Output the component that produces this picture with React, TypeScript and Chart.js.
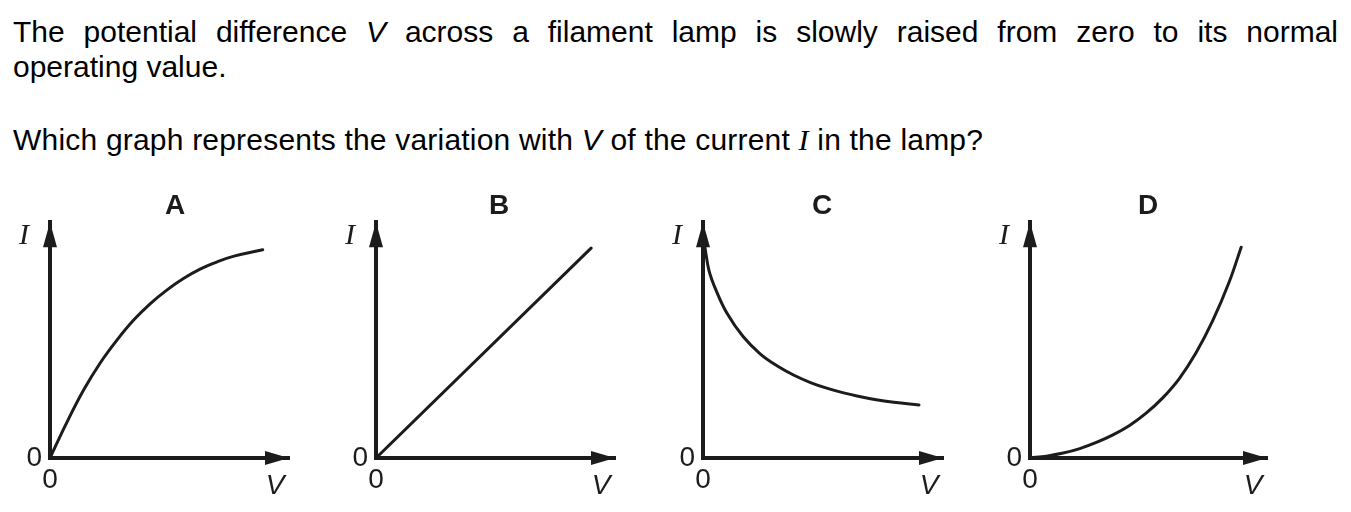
import React, { useEffect, useRef } from 'react';
import { Chart, registerables } from 'chart.js';

Chart.register(...registerables);

// ---------- data (axis units: 0 .. 10 along each axis) ----------
const graphLetters = ['A', 'B', 'C', 'D'];

const voltageA = [0, 0.7, 1.4, 2.1, 2.8, 3.5, 4.2, 4.9, 5.6, 6.3, 7.0, 7.7, 8.9];
const currentA = [0, 1.5, 2.87, 4.03, 5.0, 5.85, 6.55, 7.13, 7.62, 8.02, 8.32, 8.56, 8.83];

const voltageB = [0, 9.0];
const currentB = [0, 8.9];

const voltageC = [0.08, 0.25, 0.55, 1.0, 1.67, 2.38, 3.1, 3.77, 4.48, 5.19, 5.86, 6.57, 7.28, 7.95, 9.0];
const currentC = [8.94, 7.95, 7.1, 6.14, 5.15, 4.42, 3.9, 3.52, 3.2, 2.95, 2.76, 2.6, 2.46, 2.36, 2.25];

const voltageD = [0, 0.7, 1.4, 2.1, 2.8, 3.5, 4.2, 4.9, 5.6, 6.3, 7.0, 7.7, 8.4, 8.91];
const currentD = [0, 0.08, 0.21, 0.4, 0.66, 0.98, 1.38, 1.9, 2.55, 3.37, 4.45, 5.8, 7.45, 8.94];

const axisMin = 0;
const axisMax = 10;
const originTickLabel = '0';
const xAxisLabel = 'V';
const yAxisLabel = 'I';

// ---------- layout / style ----------
const INK = '#1c1c1c';
const SANS = '"Liberation Sans", Arial, Helvetica, sans-serif';
const SERIF = '"Liberation Serif", "Times New Roman", serif';

const CANVAS_W = 320;
const CANVAS_H = 310;
const CANVAS_TOP = 190;

// canvas left, y-axis box width, right spacer width
const panelLayout = [
  { left: 15, yWidth: 35, rightWidth: 46 },
  { left: 339, yWidth: 37, rightWidth: 44 },
  { left: 662, yWidth: 41, rightWidth: 39 },
  { left: 988, yWidth: 42, rightWidth: 41 },
];

const seriesList = [
  { v: voltageA, i: currentA, smooth: true },
  { v: voltageB, i: currentB, smooth: false },
  { v: voltageC, i: currentC, smooth: true },
  { v: voltageD, i: currentD, smooth: true },
];

const axisDecor = {
  id: 'axisDecor',
  afterDraw(chart: any) {
    const { ctx, scales } = chart;
    const x0 = scales.x.getPixelForValue(axisMin);
    const y0 = scales.y.getPixelForValue(axisMin);
    const xEnd = scales.x.getPixelForValue(axisMax);
    const yEnd = scales.y.getPixelForValue(axisMax);
    ctx.save();
    ctx.fillStyle = INK;
    // arrow on I axis
    ctx.beginPath();
    ctx.moveTo(x0, yEnd);
    ctx.lineTo(x0 - 7, yEnd + 25);
    ctx.lineTo(x0 + 7, yEnd + 25);
    ctx.closePath();
    ctx.fill();
    // arrow on V axis
    ctx.beginPath();
    ctx.moveTo(xEnd, y0);
    ctx.lineTo(xEnd - 24, y0 - 7);
    ctx.lineTo(xEnd - 24, y0 + 7);
    ctx.closePath();
    ctx.fill();
    // axis names
    ctx.textAlign = 'center';
    ctx.textBaseline = 'middle';
    ctx.font = `italic 30px ${SERIF}`;
    ctx.fillText(yAxisLabel, x0 - 26, yEnd + 14);
    ctx.font = `italic 28px ${SANS}`;
    ctx.fillText(xAxisLabel, xEnd - 14, y0 + 28);
    ctx.restore();
  },
};

function Panel({ index }: { index: number }) {
  const ref = useRef<HTMLCanvasElement | null>(null);
  useEffect(() => {
    const canvas = ref.current;
    if (!canvas) return;
    const lay = panelLayout[index];
    const s = seriesList[index];
    const points = s.v.map((v, k) => ({ x: v, y: s.i[k] }));
    const tickFont = { family: SANS, size: 28 };
    const chart = new Chart(canvas, {
      type: 'line',
      data: {
        datasets: [
          {
            data: points,
            borderColor: INK,
            borderWidth: 3,
            pointRadius: 0,
            fill: false,
            tension: s.smooth ? 0.4 : 0,
            cubicInterpolationMode: 'default',
            borderCapStyle: 'round',
            borderJoinStyle: 'round',
          } as any,
        ],
      },
      options: {
        animation: false,
        responsive: false,
        devicePixelRatio: 1,
        events: [],
        layout: { padding: 0 },
        plugins: {
          legend: { display: false },
          tooltip: { enabled: false },
          title: {
            display: true,
            text: graphLetters[index],
            color: INK,
            fullSize: true,
            padding: { top: 0, bottom: 0 },
            font: { family: SANS, size: 28, weight: 'bold', lineHeight: 1.15 },
          },
        },
        scales: {
          x: {
            type: 'linear',
            position: 'bottom',
            min: axisMin,
            max: axisMax,
            grid: { display: false, drawTicks: false },
            border: { display: true, color: INK, width: 4 },
            ticks: {
              stepSize: axisMax,
              autoSkip: false,
              maxRotation: 0,
              padding: 5,
              color: INK,
              font: tickFont,
              callback: (v: any) => (Number(v) === axisMin ? originTickLabel : ''),
            },
            afterFit: (sc: any) => {
              sc.height = 42;
            },
          },
          y: {
            type: 'linear',
            position: 'left',
            min: axisMin,
            max: axisMax,
            grid: { display: false, drawTicks: false },
            border: { display: true, color: INK, width: 4 },
            ticks: {
              stepSize: axisMax,
              autoSkip: false,
              padding: 8,
              color: INK,
              font: tickFont,
              callback: (v: any) => (Number(v) === axisMin ? originTickLabel : ''),
            },
            afterFit: (sc: any) => {
              sc.width = lay.yWidth;
            },
          },
          spacer: {
            type: 'linear',
            position: 'right',
            display: true,
            grid: { display: false, drawTicks: false },
            border: { display: false },
            ticks: { display: false },
            afterFit: (sc: any) => {
              sc.width = lay.rightWidth;
            },
          },
        } as any,
      },
      plugins: [axisDecor],
    });
    return () => chart.destroy();
  }, [index]);

  const lay = panelLayout[index];
  return (
    <canvas
      ref={ref}
      width={CANVAS_W}
      height={CANVAS_H}
      style={{ position: 'absolute', left: lay.left, top: CANVAS_TOP, width: CANVAS_W, height: CANVAS_H }}
    />
  );
}

export default function App() {
  return (
    <div
      style={{
        position: 'absolute',
        left: 0,
        top: 0,
        width: 1351,
        height: 512,
        overflow: 'hidden',
        background: '#fff',
        color: '#000',
        fontFamily: SANS,
      }}
    >
      <div style={{ position: 'absolute', left: 13, top: 14, width: 1325, fontSize: 30, lineHeight: '35px' }}>
        <div style={{ textAlign: 'justify', textAlignLast: 'justify' as any }}>
          The potential difference <i>V</i> across a filament lamp is slowly raised from zero to its normal
        </div>
        <div>operating value.</div>
      </div>
      <div
        style={{
          position: 'absolute',
          left: 13,
          top: 122,
          fontSize: 30,
          lineHeight: '35px',
          whiteSpace: 'nowrap',
          letterSpacing: '0.2px',
        }}
      >
        Which graph represents the variation with <i>V</i> of the current{' '}
        <i style={{ fontFamily: SERIF }}>I</i> in the lamp?
      </div>
      {graphLetters.map((_, k) => (
        <Panel key={k} index={k} />
      ))}
    </div>
  );
}
